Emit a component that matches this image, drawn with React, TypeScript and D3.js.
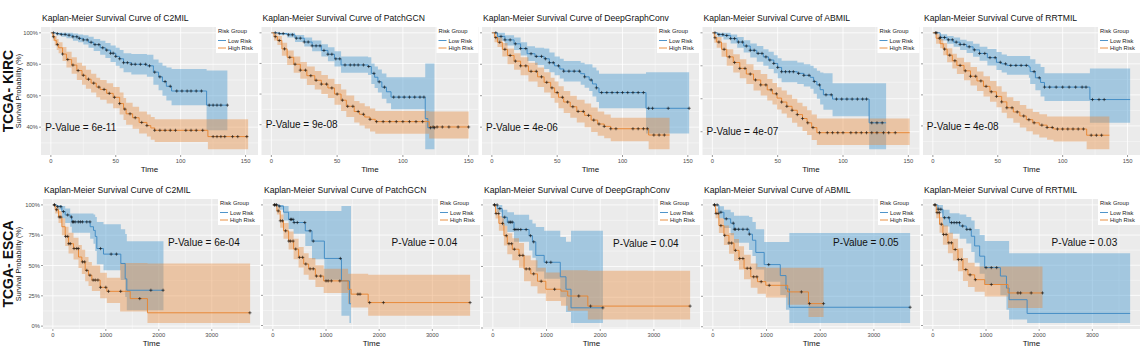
import React from "react";
import * as d3 from "d3";

// [time, survival, lower CI, upper CI]
type Pt = [number, number, number, number];

const models = ["C2MIL", "PatchGCN", "DeepGraphConv", "ABMIL", "RRTMIL"];
const cohorts = ["TCGA- KIRC", "TCGA- ESCA"];
const kircPValues = ["6e-11", "9e-08", "4e-06", "4e-07", "4e-08"];
const escaPValues = ["6e-04", "0.04", "0.04", "0.05", "0.03"];
const kircXTicks = [0, 50, 100, 150];
const escaXTicks = [0, 1000, 2000, 3000];
const kircYTicks = [0.4, 0.6, 0.8, 1.0];
const escaYTicks = [0, 0.25, 0.5, 0.75, 1.0];
const kircPvalAt = [23, 0.4];
const escaPvalAt = [2850, 0.69];

// ---- TCGA-KIRC ----
const kircC2milLow: Pt[] = [
  [0, 1, 1, 1], [4, 0.995, 0.985, 1], [8, 0.99, 0.975, 1], [12, 0.985, 0.965, 1], [17, 0.975, 0.95, 0.995],
  [21, 0.965, 0.94, 0.99], [25, 0.955, 0.925, 0.985], [29, 0.94, 0.905, 0.975], [33, 0.925, 0.885, 0.96],
  [38, 0.905, 0.86, 0.95], [42, 0.89, 0.84, 0.935], [46, 0.87, 0.815, 0.92], [50, 0.85, 0.79, 0.905],
  [53, 0.835, 0.775, 0.89], [56, 0.81, 0.75, 0.87], [62, 0.8, 0.735, 0.865], [74, 0.79, 0.72, 0.86],
  [79, 0.75, 0.67, 0.83], [83, 0.72, 0.635, 0.81], [86, 0.69, 0.6, 0.79], [89, 0.66, 0.57, 0.78],
  [93, 0.63, 0.54, 0.77], [120, 0.54, 0.38, 0.76], [136, 0.54, 0.38, 0.76],
];
const kircC2milHigh: Pt[] = [
  [0, 1, 1, 1], [1.5, 0.975, 0.95, 0.995], [3, 0.95, 0.92, 0.98], [4.5, 0.925, 0.89, 0.96], [6, 0.905, 0.87, 0.94],
  [9, 0.865, 0.82, 0.91], [12, 0.83, 0.78, 0.88], [16, 0.795, 0.74, 0.845], [20, 0.76, 0.7, 0.81],
  [24, 0.73, 0.67, 0.79], [27, 0.705, 0.645, 0.765], [31, 0.68, 0.62, 0.74], [35, 0.655, 0.59, 0.715],
  [38, 0.64, 0.575, 0.7], [43, 0.615, 0.55, 0.68], [48, 0.59, 0.52, 0.655], [53, 0.55, 0.48, 0.62],
  [56, 0.515, 0.445, 0.585], [58, 0.485, 0.415, 0.555], [63, 0.46, 0.39, 0.53], [68, 0.43, 0.36, 0.5],
  [74, 0.41, 0.34, 0.48], [77, 0.395, 0.32, 0.465], [80, 0.38, 0.305, 0.45], [121, 0.34, 0.26, 0.45],
  [152, 0.34, 0.26, 0.45],
];
const kircC2milLowCens = [2, 5, 8, 11, 14, 17, 20, 22, 25, 28, 31, 34, 37, 40, 43, 46, 48, 50, 53, 56, 59, 62, 65, 69, 73, 76, 80, 84, 88, 92, 97, 101, 105, 108, 112, 116, 122, 125, 128, 131, 136];
const kircC2milHighCens = [2, 5, 9, 13, 17, 21, 25, 29, 33, 37, 41, 45, 49, 53, 57, 61, 65, 70, 74, 80, 84, 88, 92, 96, 104, 108, 112, 117, 125, 128, 131, 134, 140, 144, 151];

const kircPatchLow: Pt[] = [
  [0, 1, 1, 1], [6, 0.995, 0.985, 1], [12, 0.987, 0.97, 1], [18, 0.965, 0.94, 0.985], [25, 0.94, 0.91, 0.97],
  [31, 0.915, 0.88, 0.95], [38, 0.885, 0.845, 0.925], [43, 0.86, 0.815, 0.905], [48, 0.83, 0.78, 0.88],
  [53, 0.79, 0.74, 0.845], [73.5, 0.78, 0.725, 0.84], [76, 0.735, 0.665, 0.8], [78.5, 0.71, 0.64, 0.78],
  [81, 0.68, 0.61, 0.76], [84, 0.645, 0.57, 0.735], [87.5, 0.615, 0.54, 0.71], [91, 0.58, 0.5, 0.71],
  [117, 0.44, 0.24, 0.8], [119, 0.38, 0.24, 0.8], [124, 0.38, 0.24, 0.8],
];
const kircPatchHigh: Pt[] = [
  [0, 1, 1, 1], [2, 0.975, 0.95, 0.995], [4.6, 0.95, 0.92, 0.98], [8, 0.895, 0.85, 0.935], [12, 0.84, 0.79, 0.885],
  [17, 0.795, 0.74, 0.845], [22, 0.756, 0.7, 0.81], [27, 0.72, 0.66, 0.78], [33, 0.69, 0.63, 0.75],
  [38, 0.665, 0.6, 0.725], [43, 0.64, 0.575, 0.7], [48, 0.6, 0.53, 0.665], [53, 0.56, 0.49, 0.63],
  [57, 0.52, 0.45, 0.59], [63, 0.486, 0.415, 0.555], [67, 0.468, 0.395, 0.54], [71, 0.45, 0.375, 0.52],
  [75, 0.435, 0.355, 0.505], [79, 0.42, 0.34, 0.49], [120, 0.385, 0.31, 0.486], [150, 0.385, 0.31, 0.486],
];
const kircPatchLowCens = [3, 6, 9, 13, 16, 19, 22, 25, 28, 31, 34, 37, 40, 43, 46, 49, 52, 56, 60, 63, 66, 70, 74, 78, 82, 86, 93, 97, 101, 105, 109, 113, 116, 121, 124];
const kircPatchHighCens = [3, 6, 10, 14, 18, 22, 26, 30, 34, 38, 42, 46, 50, 54, 58, 62, 66, 70, 75, 80, 85, 90, 95, 100, 105, 110, 115, 123, 126, 130, 135, 142, 150];

const kircDgcLow: Pt[] = [
  [0, 1, 1, 1], [4.3, 0.977, 0.95, 1], [10, 0.955, 0.92, 0.985], [17, 0.93, 0.89, 0.97], [22, 0.9, 0.855, 0.94],
  [27, 0.867, 0.82, 0.915], [33, 0.85, 0.795, 0.905], [40, 0.835, 0.77, 0.9], [44, 0.81, 0.75, 0.875],
  [48, 0.79, 0.73, 0.85], [52, 0.77, 0.71, 0.835], [55, 0.756, 0.69, 0.82], [68, 0.74, 0.67, 0.81],
  [71, 0.72, 0.65, 0.8], [74.5, 0.7, 0.63, 0.8], [77, 0.675, 0.595, 0.78], [80, 0.65, 0.56, 0.76],
  [82, 0.62, 0.52, 0.74], [118, 0.52, 0.36, 0.75], [151, 0.52, 0.36, 0.75],
];
const kircDgcHigh: Pt[] = [
  [0, 1, 1, 1], [2, 0.97, 0.94, 0.99], [4.3, 0.94, 0.91, 0.97], [8, 0.895, 0.85, 0.935], [12, 0.856, 0.8, 0.9],
  [17, 0.82, 0.765, 0.87], [22, 0.79, 0.73, 0.845], [28, 0.755, 0.69, 0.81], [35, 0.72, 0.655, 0.78],
  [40, 0.685, 0.62, 0.75], [45, 0.65, 0.585, 0.715], [48, 0.62, 0.555, 0.69], [51, 0.59, 0.52, 0.66],
  [55, 0.56, 0.49, 0.63], [60, 0.53, 0.46, 0.6], [65, 0.5, 0.43, 0.575], [71, 0.475, 0.4, 0.55],
  [76, 0.445, 0.37, 0.525], [81, 0.42, 0.345, 0.5], [86, 0.405, 0.33, 0.48], [91, 0.39, 0.31, 0.46],
  [120, 0.35, 0.26, 0.46], [136, 0.35, 0.26, 0.46],
];
const kircDgcLowCens = [3, 7, 10, 14, 18, 22, 26, 30, 34, 38, 41, 44, 47, 51, 55, 59, 63, 67, 71, 76, 80, 84, 88, 92, 96, 100, 104, 108, 112, 116, 120, 123, 135, 151];
const kircDgcHighCens = [3, 6, 10, 14, 18, 22, 26, 30, 34, 38, 42, 46, 50, 54, 58, 62, 66, 70, 74, 78, 82, 86, 91, 95, 108, 112, 116, 119, 124, 128, 132];

const kircAbmilLow: Pt[] = [
  [0, 1, 1, 1], [4, 0.99, 0.975, 1], [8.5, 0.984, 0.96, 1], [14, 0.965, 0.935, 0.99], [19, 0.944, 0.91, 0.975],
  [24, 0.92, 0.88, 0.955], [29, 0.894, 0.85, 0.935], [34, 0.875, 0.825, 0.92], [39, 0.854, 0.8, 0.9],
  [43, 0.835, 0.78, 0.885], [47, 0.814, 0.754, 0.864], [50, 0.79, 0.725, 0.845], [53, 0.764, 0.7, 0.83],
  [65, 0.754, 0.69, 0.82], [70, 0.742, 0.675, 0.81], [75, 0.73, 0.66, 0.8], [77.5, 0.705, 0.63, 0.785],
  [80, 0.684, 0.6, 0.77], [82.5, 0.655, 0.565, 0.76], [85, 0.624, 0.534, 0.754], [92, 0.598, 0.494, 0.694],
  [120, 0.454, 0.294, 0.694], [133, 0.454, 0.294, 0.694],
];
const kircAbmilHigh: Pt[] = [
  [0, 1, 1, 1], [1.5, 0.97, 0.94, 0.99], [3.3, 0.944, 0.91, 0.975], [7, 0.9, 0.855, 0.94], [11, 0.854, 0.8, 0.9],
  [16, 0.82, 0.76, 0.87], [21, 0.784, 0.725, 0.84], [26, 0.75, 0.69, 0.81], [31.5, 0.714, 0.65, 0.775],
  [37, 0.684, 0.62, 0.75], [42, 0.654, 0.59, 0.72], [46, 0.63, 0.565, 0.695], [49.5, 0.604, 0.535, 0.67],
  [53, 0.58, 0.51, 0.65], [57, 0.554, 0.485, 0.625], [61, 0.53, 0.455, 0.6], [65, 0.504, 0.43, 0.575],
  [69, 0.48, 0.405, 0.555], [72.5, 0.454, 0.38, 0.53], [76, 0.425, 0.35, 0.505], [80, 0.394, 0.32, 0.48],
  [151, 0.394, 0.32, 0.48],
];
const kircAbmilLowCens = [2, 5, 8, 11, 14, 17, 20, 23, 26, 29, 32, 35, 38, 41, 44, 47, 50, 53, 56, 59, 62, 66, 70, 74, 78, 82, 87, 91, 95, 99, 103, 107, 111, 115, 118, 122, 126, 130];
const kircAbmilHighCens = [2, 5, 9, 13, 17, 21, 25, 29, 33, 37, 41, 45, 49, 53, 57, 61, 65, 69, 73, 77, 82, 88, 92, 96, 100, 106, 110, 114, 118, 122, 126, 131, 135, 140];

const kircRrtLow: Pt[] = [
  [0, 1, 1, 1], [5.6, 0.97, 0.95, 0.99], [11, 0.955, 0.93, 0.98], [16, 0.94, 0.91, 0.97], [21, 0.925, 0.89, 0.955],
  [26, 0.91, 0.87, 0.945], [31, 0.89, 0.845, 0.93], [36, 0.867, 0.82, 0.91], [42, 0.84, 0.79, 0.895],
  [49, 0.81, 0.76, 0.877], [53, 0.8, 0.745, 0.86], [57, 0.79, 0.73, 0.85], [74, 0.78, 0.71, 0.85],
  [75, 0.75, 0.67, 0.83], [79, 0.71, 0.63, 0.8], [83, 0.68, 0.59, 0.78], [86, 0.65, 0.56, 0.74],
  [121, 0.57, 0.42, 0.77], [152, 0.57, 0.42, 0.77],
];
const kircRrtHigh: Pt[] = [
  [0, 1, 1, 1], [2.5, 0.965, 0.93, 0.99], [5.6, 0.93, 0.9, 0.96], [8, 0.895, 0.855, 0.935], [11, 0.856, 0.81, 0.9],
  [15, 0.82, 0.77, 0.865], [18.5, 0.79, 0.735, 0.84], [24, 0.755, 0.695, 0.81], [29, 0.72, 0.66, 0.78],
  [34, 0.69, 0.625, 0.75], [39, 0.655, 0.59, 0.72], [44, 0.62, 0.555, 0.69], [49, 0.59, 0.52, 0.655],
  [53, 0.555, 0.485, 0.62], [57, 0.517, 0.45, 0.585], [62, 0.49, 0.42, 0.56], [67, 0.464, 0.39, 0.535],
  [72, 0.44, 0.365, 0.51], [77, 0.42, 0.345, 0.49], [82, 0.405, 0.325, 0.475], [88, 0.39, 0.31, 0.46],
  [93, 0.38, 0.3, 0.46], [118.5, 0.34, 0.25, 0.46], [136, 0.34, 0.25, 0.46],
];
const kircRrtLowCens = [3, 6, 9, 12, 15, 18, 21, 24, 28, 32, 36, 40, 44, 48, 52, 56, 60, 64, 68, 72, 78, 82, 86, 90, 95, 100, 105, 110, 115, 118, 123, 128, 132];
const kircRrtHighCens = [2, 5, 9, 13, 17, 21, 25, 29, 33, 37, 41, 45, 49, 53, 57, 61, 65, 70, 74, 78, 84, 88, 92, 96, 100, 104, 108, 112, 116, 122, 126, 130];

// ---- TCGA-ESCA ----
const escaC2milLow: Pt[] = [
  [0, 1, 1, 1], [75, 0.986, 0.96, 1], [170, 0.945, 0.89, 0.99], [233, 0.917, 0.85, 0.97],
  [327, 0.9, 0.82, 0.93], [358, 0.86, 0.77, 0.93], [704, 0.82, 0.72, 0.93], [767, 0.79, 0.68, 0.92],
  [800, 0.74, 0.62, 0.9], [830, 0.64, 0.51, 0.86], [956, 0.594, 0.46, 0.84], [1283, 0.517, 0.38, 0.8],
  [1365, 0.39, 0.24, 0.76], [1396, 0.296, 0.13, 0.7], [2088, 0.296, 0.13, 0.7],
];
const escaC2milHigh: Pt[] = [
  [0, 1, 1, 1], [44, 0.96, 0.93, 0.99], [107, 0.9, 0.85, 0.95], [170, 0.82, 0.75, 0.89],
  [233, 0.74, 0.66, 0.82], [296, 0.68, 0.6, 0.77], [390, 0.64, 0.55, 0.73], [484, 0.57, 0.48, 0.67],
  [547, 0.53, 0.43, 0.63], [610, 0.46, 0.37, 0.57], [673, 0.42, 0.33, 0.53], [736, 0.38, 0.29, 0.5],
  [893, 0.32, 0.23, 0.44], [1019, 0.287, 0.19, 0.4], [1270, 0.287, 0.12, 0.52], [1460, 0.227, 0.12, 0.52],
  [1786, 0.11, 0.025, 0.517], [3724, 0.11, 0.025, 0.517],
];
const escaC2milLowCens = [30, 90, 150, 200, 280, 350, 370, 390, 420, 480, 520, 560, 640, 700, 900, 1100, 1200, 1850, 2080];
const escaC2milHighCens = [30, 70, 120, 150, 240, 280, 300, 330, 400, 450, 480, 560, 600, 640, 700, 760, 800, 850, 900, 1000, 1050, 1280, 1640, 3720];

const escaPatchLow: Pt[] = [
  [0, 1, 1, 1], [107, 0.99, 0.96, 1], [200, 0.94, 0.87, 0.99], [296, 0.88, 0.8, 0.95],
  [390, 0.854, 0.76, 0.95], [610, 0.785, 0.66, 0.95], [736, 0.7, 0.55, 0.95], [969, 0.556, 0.38, 0.95],
  [1290, 0.37, 0.08, 0.99], [1440, 0.18, 0.02, 0.99], [1470, 0.18, 0.02, 0.99],
];
const escaPatchHigh: Pt[] = [
  [0, 1, 1, 1], [75, 0.95, 0.92, 0.98], [138, 0.868, 0.81, 0.92], [200, 0.785, 0.72, 0.85],
  [296, 0.7, 0.63, 0.78], [390, 0.634, 0.55, 0.72], [484, 0.565, 0.48, 0.65], [580, 0.51, 0.42, 0.6],
  [673, 0.47, 0.38, 0.56], [800, 0.41, 0.32, 0.5], [956, 0.37, 0.27, 0.47], [1415, 0.3, 0.18, 0.43],
  [1472, 0.26, 0.15, 0.43], [1793, 0.19, 0.08, 0.42], [3711, 0.19, 0.08, 0.42],
];
const escaPatchLowCens = [30, 70, 120, 330, 350, 380, 400, 460, 600, 700, 760, 1270];
const escaPatchHighCens = [30, 60, 100, 140, 180, 240, 300, 330, 380, 430, 500, 560, 620, 700, 760, 820, 900, 1000, 1040, 1100, 1260, 1600, 1640, 1820, 2080, 3710];

const escaDgcLow: Pt[] = [
  [0, 1, 1, 1], [81, 0.97, 0.94, 1], [175, 0.9, 0.83, 0.96], [269, 0.86, 0.78, 0.94],
  [394, 0.8, 0.7, 0.92], [675, 0.75, 0.63, 0.88], [737, 0.7, 0.57, 0.85], [800, 0.59, 0.46, 0.82],
  [956, 0.534, 0.4, 0.79], [1256, 0.416, 0.25, 0.74], [1362, 0.315, 0.13, 0.7], [1456, 0.164, 0.04, 0.79],
  [2050, 0.164, 0.04, 0.79],
];
const escaDgcHigh: Pt[] = [
  [0, 1, 1, 1], [50, 0.93, 0.89, 0.97], [112, 0.85, 0.79, 0.91], [206, 0.75, 0.67, 0.83],
  [269, 0.685, 0.6, 0.77], [362, 0.64, 0.55, 0.73], [487, 0.59, 0.49, 0.69], [581, 0.48, 0.38, 0.59],
  [706, 0.44, 0.34, 0.55], [831, 0.38, 0.28, 0.49], [987, 0.315, 0.22, 0.45], [1269, 0.3, 0.18, 0.47],
  [1394, 0.26, 0.14, 0.47], [1769, 0.178, 0.07, 0.466], [3675, 0.178, 0.07, 0.466],
];
const escaDgcLowCens = [30, 80, 130, 220, 300, 330, 360, 400, 430, 470, 520, 620, 700, 760, 1000, 1080, 2050];
const escaDgcHighCens = [30, 60, 110, 180, 250, 300, 350, 400, 500, 560, 620, 680, 760, 900, 1150, 1600, 1820, 3675];

const escaAbmilLow: Pt[] = [
  [0, 1, 1, 1], [112, 0.94, 0.89, 0.99], [206, 0.886, 0.81, 0.96], [331, 0.85, 0.75, 0.94],
  [394, 0.8, 0.69, 0.91], [675, 0.76, 0.63, 0.9], [737, 0.71, 0.58, 0.86], [800, 0.61, 0.47, 0.8],
  [956, 0.51, 0.37, 0.695], [1256, 0.42, 0.26, 0.695], [1362, 0.31, 0.14, 0.695], [1425, 0.16, 0.03, 0.77],
  [3675, 0.16, 0.03, 0.77],
];
const escaAbmilHigh: Pt[] = [
  [0, 1, 1, 1], [50, 0.93, 0.89, 0.97], [112, 0.83, 0.77, 0.89], [206, 0.75, 0.67, 0.83],
  [300, 0.687, 0.6, 0.77], [394, 0.627, 0.54, 0.72], [487, 0.56, 0.47, 0.66], [581, 0.48, 0.39, 0.59],
  [706, 0.41, 0.32, 0.52], [831, 0.37, 0.27, 0.49], [987, 0.34, 0.24, 0.485], [1394, 0.286, 0.18, 0.485],
  [1781, 0.19, 0.08, 0.485], [2062, 0.19, 0.08, 0.485],
];
const escaAbmilLowCens = [30, 80, 150, 250, 380, 400, 420, 480, 560, 640, 680, 1040, 3675];
const escaAbmilHighCens = [30, 60, 100, 150, 220, 300, 350, 420, 500, 560, 640, 700, 760, 820, 900, 1050, 1650, 1800, 2062];

const escaRrtLow: Pt[] = [
  [0, 1, 1, 1], [94, 0.964, 0.93, 1], [189, 0.894, 0.82, 0.96], [314, 0.853, 0.76, 0.93],
  [503, 0.825, 0.72, 0.92], [629, 0.797, 0.68, 0.9], [723, 0.74, 0.61, 0.87], [786, 0.66, 0.52, 0.8],
  [880, 0.575, 0.43, 0.75], [975, 0.48, 0.34, 0.7], [1270, 0.41, 0.25, 0.7], [1384, 0.31, 0.13, 0.7],
  [1434, 0.214, 0.05, 0.6], [1773, 0.1, 0.02, 0.6], [3711, 0.1, 0.02, 0.6],
];
const escaRrtHigh: Pt[] = [
  [0, 1, 1, 1], [63, 0.936, 0.89, 0.98], [126, 0.84, 0.77, 0.9], [189, 0.755, 0.67, 0.83],
  [283, 0.686, 0.6, 0.77], [377, 0.63, 0.54, 0.72], [472, 0.547, 0.45, 0.64], [566, 0.464, 0.37, 0.56],
  [660, 0.42, 0.32, 0.52], [786, 0.38, 0.28, 0.49], [975, 0.34, 0.24, 0.49], [1415, 0.27, 0.145, 0.49],
  [2062, 0.27, 0.145, 0.49],
];
const escaRrtLowCens = [40, 100, 150, 220, 300, 350, 400, 450, 500, 560, 640, 700, 1000, 1100, 1200];
const escaRrtHighCens = [40, 80, 120, 160, 200, 250, 300, 350, 420, 480, 540, 620, 700, 800, 1100, 1600, 1650, 1850, 2062];

const kircLow = [kircC2milLow, kircPatchLow, kircDgcLow, kircAbmilLow, kircRrtLow];
const kircHigh = [kircC2milHigh, kircPatchHigh, kircDgcHigh, kircAbmilHigh, kircRrtHigh];
const kircLowCens = [kircC2milLowCens, kircPatchLowCens, kircDgcLowCens, kircAbmilLowCens, kircRrtLowCens];
const kircHighCens = [kircC2milHighCens, kircPatchHighCens, kircDgcHighCens, kircAbmilHighCens, kircRrtHighCens];
const escaLow = [escaC2milLow, escaPatchLow, escaDgcLow, escaAbmilLow, escaRrtLow];
const escaHigh = [escaC2milHigh, escaPatchHigh, escaDgcHigh, escaAbmilHigh, escaRrtHigh];
const escaLowCens = [escaC2milLowCens, escaPatchLowCens, escaDgcLowCens, escaAbmilLowCens, escaRrtLowCens];
const escaHighCens = [escaC2milHighCens, escaPatchHighCens, escaDgcHighCens, escaAbmilHighCens, escaRrtHighCens];

const FONT = "'Liberation Sans', Arial, Helvetica, sans-serif";
const BLUE = "#3b88c3";
const ORANGE = "#e8832e";
const BLUE_FILL = "#4c9bd0";
const ORANGE_FILL = "#e8893a";

function survAt(curve: Pt[], t: number) {
  const i = d3.bisector((d: Pt) => d[0]).right(curve, t) - 1;
  return curve[Math.max(0, i)][1];
}

function minorTicks(ticks: number[], lo: number, hi: number) {
  const step = ticks[1] - ticks[0];
  const out: number[] = [];
  for (let v = ticks[0] - step / 2; v <= hi; v += step) if (v >= lo) out.push(v);
  return out;
}

function Panel(props: any) {
  const { x0, y0, w, h, title, low, high, lowCens, highCens, xTicks, yTicks, pval, pvalAt, showYLabels } = props;
  const all: Pt[] = [...low, ...high];
  const tMax = d3.max(all, (d) => d[0]) as number;
  const yMin = d3.min(all, (d) => d[2]) as number;
  const pad = 0.05 * (1 - yMin);
  const x = d3.scaleLinear().domain([-0.05 * tMax, 1.05 * tMax]).range([x0, x0 + w]);
  const y = d3.scaleLinear().domain([yMin - pad, 1 + pad]).range([y0 + h, y0]);
  const [xa, xb] = x.domain();
  const [ya, yb] = y.domain();

  const band = d3.area<Pt>().x((d) => x(d[0])).y0((d) => y(d[2])).y1((d) => y(d[3])).curve(d3.curveStepAfter);
  const line = d3.line<Pt>().x((d) => x(d[0])).y((d) => y(d[1])).curve(d3.curveStepAfter);

  const xt = xTicks.filter((v: number) => v >= xa && v <= xb);
  const yt = yTicks.filter((v: number) => v >= ya && v <= yb);

  const cross = (curve: Pt[], times: number[], key: string) =>
    times.map((t, i) => {
      const cx = x(t);
      const cy = y(survAt(curve, t));
      return (
        <path key={key + i} d={`M${cx - 1.6},${cy}h3.2M${cx},${cy - 1.6}v3.2`} stroke="#111" strokeWidth={0.6} />
      );
    });

  const lx = x0 + w - 42;
  return (
    <g fontFamily={FONT}>
      <text x={x0 + 1} y={y0 - 6} fontSize={8.6} fill="#111">{title}</text>
      <rect x={x0} y={y0} width={w} height={h} fill="#EBEBEB" />
      {minorTicks(xt, xa, xb).map((v) => (
        <line key={"mx" + v} x1={x(v)} x2={x(v)} y1={y0} y2={y0 + h} stroke="#fff" strokeWidth={0.4} />
      ))}
      {minorTicks(yt, ya, yb).map((v) => (
        <line key={"my" + v} x1={x0} x2={x0 + w} y1={y(v)} y2={y(v)} stroke="#fff" strokeWidth={0.4} />
      ))}
      {xt.map((v: number) => (
        <line key={"gx" + v} x1={x(v)} x2={x(v)} y1={y0} y2={y0 + h} stroke="#fff" strokeWidth={0.8} />
      ))}
      {yt.map((v: number) => (
        <line key={"gy" + v} x1={x0} x2={x0 + w} y1={y(v)} y2={y(v)} stroke="#fff" strokeWidth={0.8} />
      ))}
      <path d={band(low) || ""} fill={BLUE_FILL} fillOpacity={0.45} />
      <path d={band(high) || ""} fill={ORANGE_FILL} fillOpacity={0.4} />
      <path d={line(low) || ""} fill="none" stroke={BLUE} strokeWidth={0.9} />
      <path d={line(high) || ""} fill="none" stroke={ORANGE} strokeWidth={0.9} />
      {cross(low, lowCens, "cl")}
      {cross(high, highCens, "ch")}
      <text x={x(pvalAt[0])} y={y(pvalAt[1])} dy="0.36em" fontSize={10} textAnchor="middle" fill="#111">
        {"P-Value = " + pval}
      </text>
      {yt.map((v: number) => (
        <g key={"ty" + v}>
          <line x1={x0 - 2} x2={x0} y1={y(v)} y2={y(v)} stroke="#333" strokeWidth={0.5} />
          {showYLabels && (
            <text x={x0 - 3} y={y(v)} dy="0.35em" fontSize={5.8} textAnchor="end" fill="#4d4d4d">
              {Math.round(v * 100) + "%"}
            </text>
          )}
        </g>
      ))}
      {xt.map((v: number) => (
        <g key={"tx" + v}>
          <line x1={x(v)} x2={x(v)} y1={y0 + h} y2={y0 + h + 2} stroke="#333" strokeWidth={0.5} />
          <text x={x(v)} y={y0 + h + 7.5} fontSize={5.8} textAnchor="middle" fill="#4d4d4d">{v}</text>
        </g>
      ))}
      <text x={x0 + w / 2} y={y0 + h + 16.5} fontSize={8} textAnchor="middle" fill="#111">Time</text>
      <rect x={lx} y={y0 - 1} width={42} height={27} fill="#fff" />
      <text x={lx + 2} y={y0 + 6} fontSize={5.8} fill="#222">Risk Group</text>
      <line x1={lx + 2} x2={lx + 10} y1={y0 + 13.5} y2={y0 + 13.5} stroke={BLUE} strokeWidth={0.9} />
      <text x={lx + 12} y={y0 + 15.5} fontSize={5.8} fill="#222">Low Risk</text>
      <line x1={lx + 2} x2={lx + 10} y1={y0 + 21} y2={y0 + 21} stroke={ORANGE} strokeWidth={0.9} />
      <text x={lx + 12} y={y0 + 23} fontSize={5.8} fill="#222">High Risk</text>
    </g>
  );
}

export default function App() {
  const W = 1142;
  const H = 361;
  const rows = [
    { top: 27, h: 128, left: 41, step: 220.5, low: kircLow, high: kircHigh, lc: kircLowCens, hc: kircHighCens, xt: kircXTicks, yt: kircYTicks, pv: kircPValues, pa: kircPvalAt },
    { top: 199, h: 130, left: 43, step: 220, low: escaLow, high: escaHigh, lc: escaLowCens, hc: escaHighCens, xt: escaXTicks, yt: escaYTicks, pv: escaPValues, pa: escaPvalAt },
  ];
  return (
    <svg width={W} height={H} style={{ position: "absolute", left: 0, top: 0, background: "#fff" }}>
      {rows.map((r, ri) => (
        <g key={ri}>
          <text
            transform={`translate(13,${r.top + r.h / 2}) rotate(-90)`}
            fontFamily={FONT}
            fontSize={14}
            fontWeight="bold"
            textAnchor="middle"
            fill="#111"
          >
            {cohorts[ri]}
          </text>
          <text
            transform={`translate(20.5,${r.top + r.h / 2}) rotate(-90)`}
            fontFamily={FONT}
            fontSize={7.2}
            textAnchor="middle"
            fill="#111"
          >
            Survival Probability (%)
          </text>
          {models.map((m, i) => (
            <Panel
              key={m}
              x0={r.left + i * r.step}
              y0={r.top}
              w={217}
              h={r.h}
              title={"Kaplan-Meier Survival Curve of " + m}
              low={r.low[i]}
              high={r.high[i]}
              lowCens={r.lc[i]}
              highCens={r.hc[i]}
              xTicks={r.xt}
              yTicks={r.yt}
              pval={r.pv[i]}
              pvalAt={r.pa}
              showYLabels={i === 0}
            />
          ))}
        </g>
      ))}
    </svg>
  );
}
